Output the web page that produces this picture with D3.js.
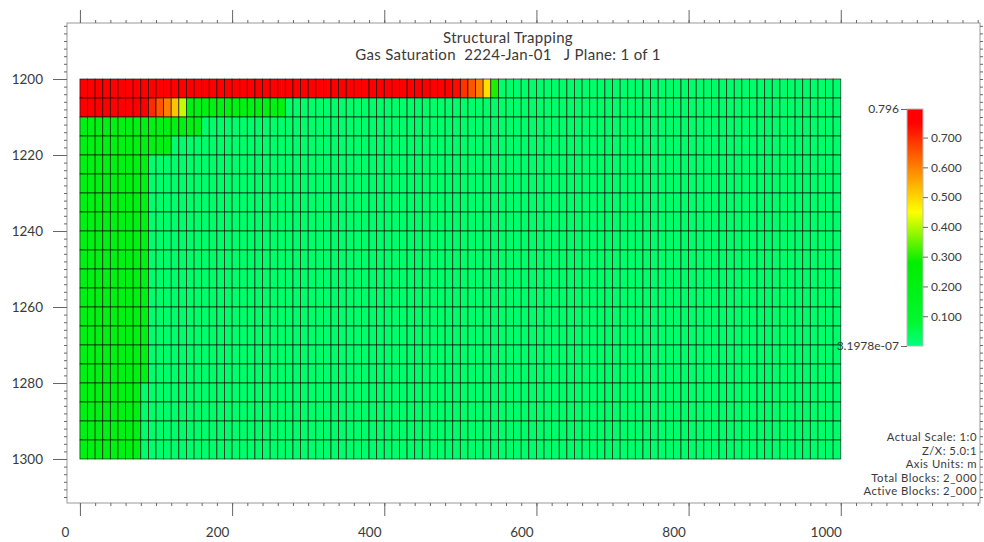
<!DOCTYPE html>
<html>
<head>
<meta charset="utf-8">
<script src="https://cdn.jsdelivr.net/npm/d3@7"></script>
<style>
  body { margin: 0; background: #fff; }
  text { font-family: Lato, "DejaVu Sans", sans-serif; fill: #3a3a3a; }
</style>
</head>
<body>
<div id="chart"></div>
<script>
// grid: 100 columns of 10 m, 20 layers of 5 m (top at 1200 m)
const colWidth = 10;
const rowHeight = 5;
const topDepth = 1200;

// gas saturation per layer, run-length: [number of cells, value]
const layers = [
  [[49, 0.79], [1, 0.74], [1, 0.69], [1, 0.65], [1, 0.60], [1, 0.49], [1, 0.30], [45, 0.02]],
  [[9, 0.79], [1, 0.70], [1, 0.65], [1, 0.60], [1, 0.52], [1, 0.41], [13, 0.2], [73, 0.02]],
  [[16, 0.2], [84, 0.02]],
  [[12, 0.2], [88, 0.02]],
  [[9, 0.2], [91, 0.02]],
  [[9, 0.2], [91, 0.02]],
  [[9, 0.2], [91, 0.02]],
  [[9, 0.2], [91, 0.02]],
  [[9, 0.2], [91, 0.02]],
  [[9, 0.2], [91, 0.02]],
  [[9, 0.2], [91, 0.02]],
  [[9, 0.2], [91, 0.02]],
  [[9, 0.2], [91, 0.02]],
  [[9, 0.2], [91, 0.02]],
  [[9, 0.2], [91, 0.02]],
  [[9, 0.2], [91, 0.02]],
  [[8, 0.2], [92, 0.02]],
  [[8, 0.2], [92, 0.02]],
  [[8, 0.2], [92, 0.02]],
  [[8, 0.2], [92, 0.02]]
];

const colorStops = [0, 0.08, 0.28, 0.45, 0.6, 0.75, 0.796];
const colorRange = ['#00ff80', '#00f830', '#00ee00', '#ffff00', '#ff8000', '#ff0000', '#ff0000'];
const barTicks = [0.1, 0.2, 0.3, 0.4, 0.5, 0.6, 0.7];
const barMin = 3.1978e-07, barMax = 0.796;

const xTicks = [0, 200, 400, 600, 800, 1000];
const yTicks = [1200, 1220, 1240, 1260, 1280, 1300];

const titleLines = ['Structural Trapping', 'Gas Saturation  2224-Jan-01   J Plane: 1 of 1'];
const infoLines = ['Actual Scale: 1:0', 'Z/X: 5.0:1', 'Axis Units: m', 'Total Blocks: 2_000', 'Active Blocks: 2_000'];

const width = 984, height = 542;
const frame = { left: 67, right: 980, top: 23, bottom: 503 };

const svg = d3.select('#chart').append('svg')
  .attr('width', width)
  .attr('height', height);

const x = d3.scaleLinear().domain([-17, 1183]).range([frame.left, frame.right]);
const y = d3.scaleLinear().domain([1185.26, 1311.58]).range([frame.top, frame.bottom]);
const color = d3.scaleLinear().domain(colorStops).range(colorRange);

// flatten the layers into cells
const cells = [];
layers.forEach((runs, j) => {
  let i = 0;
  runs.forEach(([n, v]) => {
    for (let k = 0; k < n; k++) { cells.push({ i: i, j: j, v: v }); i++; }
  });
});

svg.append('g')
  .selectAll('rect')
  .data(cells)
  .join('rect')
    .attr('x', d => x(d.i * colWidth))
    .attr('y', d => y(topDepth + d.j * rowHeight))
    .attr('width', x(colWidth) - x(0))
    .attr('height', y(topDepth + rowHeight) - y(topDepth))
    .attr('fill', d => color(d.v))
    .attr('stroke', '#000')
    .attr('stroke-opacity', 0.75)
    .attr('stroke-width', 0.8);

// frame
svg.append('rect')
  .attr('x', frame.left).attr('y', frame.top)
  .attr('width', frame.right - frame.left).attr('height', frame.bottom - frame.top)
  .attr('fill', 'none').attr('stroke', '#999');

const minorX = d3.range(0, 1181, 20);
const minorY = d3.range(1186, 1311, 2);

function styleAxis(g) {
  g.select('.domain').remove();
  g.selectAll('line').attr('stroke', '#666');
  g.selectAll('text').attr('font-size', '13.5px').attr('fill', '#3a3a3a')
    .style('font-family', 'Lato, "DejaVu Sans", sans-serif');
}

// minor ticks
svg.append('g').attr('transform', `translate(0,${frame.top})`)
  .call(d3.axisTop(x).tickValues(minorX).tickSize(3).tickFormat(''))
  .call(styleAxis);
svg.append('g').attr('transform', `translate(0,${frame.bottom})`)
  .call(d3.axisBottom(x).tickValues(minorX).tickSize(3).tickFormat(''))
  .call(styleAxis);
svg.append('g').attr('transform', `translate(${frame.left},0)`)
  .call(d3.axisLeft(y).tickValues(minorY).tickSize(3).tickFormat(''))
  .call(styleAxis);
svg.append('g').attr('transform', `translate(${frame.right},0)`)
  .call(d3.axisRight(y).tickValues(minorY).tickSize(3).tickFormat(''))
  .call(styleAxis);

// major ticks
svg.append('g').attr('transform', `translate(0,${frame.top})`)
  .call(d3.axisTop(x).tickValues(xTicks).tickSize(13).tickFormat(''))
  .call(styleAxis);
svg.append('g').attr('transform', `translate(0,${frame.bottom})`)
  .call(d3.axisBottom(x).tickValues(xTicks).tickSize(13).tickPadding(11).tickFormat(d3.format('d')))
  .call(styleAxis)
  .selectAll('text').attr('x', -15);
svg.append('g').attr('transform', `translate(${frame.left},0)`)
  .call(d3.axisLeft(y).tickValues(yTicks).tickSize(14).tickPadding(10).tickFormat(d3.format('d')))
  .call(styleAxis);

// titles
svg.append('g')
  .selectAll('text')
  .data(titleLines)
  .join('text')
    .attr('x', 508)
    .attr('y', (d, i) => 43 + i * 17)
    .attr('text-anchor', 'middle')
    .attr('font-size', '15px')
    .attr('letter-spacing', '0.3px')
    .style('white-space', 'pre')
    .text(d => d);

// info block
svg.append('g')
  .selectAll('text')
  .data(infoLines)
  .join('text')
    .attr('x', 977)
    .attr('y', (d, i) => 441 + i * 13.6)
    .attr('text-anchor', 'end')
    .attr('font-size', '11.3px')
    .attr('letter-spacing', '0.5px')
    .text(d => d);

// colour bar
const bar = { x: 907, w: 16 };
const yBar = d3.scaleLinear().domain([0, barMax]).range([346, 109]);

const grad = svg.append('defs').append('linearGradient')
  .attr('id', 'sgGrad')
  .attr('x1', 0).attr('y1', 1).attr('x2', 0).attr('y2', 0);
grad.selectAll('stop')
  .data(colorStops)
  .join('stop')
    .attr('offset', d => d / barMax)
    .attr('stop-color', d => color(d));

svg.append('rect')
  .attr('x', bar.x).attr('y', yBar(barMax))
  .attr('width', bar.w).attr('height', yBar(0) - yBar(barMax))
  .attr('fill', 'url(#sgGrad)')
  .attr('stroke', '#bbb');

svg.append('g').attr('transform', `translate(${bar.x + bar.w},0)`)
  .call(d3.axisRight(yBar).tickValues(barTicks).tickSize(5).tickPadding(3).tickFormat(d3.format('.3f')))
  .call(styleAxis)
  .selectAll('text').attr('font-size', '12px');

svg.append('g').attr('transform', `translate(${bar.x},0)`)
  .call(d3.axisLeft(yBar).tickValues([0, barMax]).tickSize(6).tickPadding(2)
    .tickFormat(d => d === 0 ? d3.format('.4e')(barMin).replace('e-7', 'e-07') : d3.format('.3f')(d)))
  .call(styleAxis)
  .selectAll('text').attr('font-size', '12px');
</script>
</body>
</html>
